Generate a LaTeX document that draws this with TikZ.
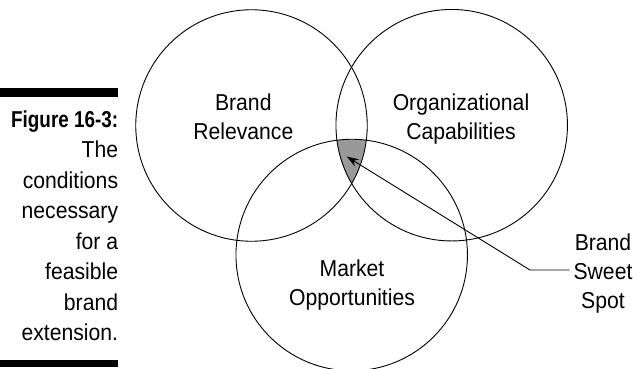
\documentclass[tikz,border=0pt]{standalone}
\usepackage{fontspec}
\setmainfont{Liberation Sans}[FakeStretch=0.92,BoldFeatures={FakeStretch=0.82}]
\usetikzlibrary{arrows.meta}
\begin{document}
\begin{tikzpicture}[x=1pt,y=-1pt,
  ring/.style={draw,circle,line width=0.9pt,minimum size=231.5pt,inner sep=0pt},
  lbl/.style={align=center,inner sep=0pt,anchor=north,font=\fontsize{23}{29}\selectfont},
  bar/.style={fill=black}]
\useasboundingbox (0,0) rectangle (637,368);
% sweet spot fill
\begin{scope}
  \clip (251.5,125.5) circle (115.5pt);
  \clip (451.7,125.2) circle (116pt);
  \fill[black!40] (351.7,255) circle (115.7pt);
\end{scope}
\node[ring] (rel) at (251.5,125.5) {};
\node[ring] (org) at (451.7,125.2) {};
\node[ring] (mkt) at (351.7,255) {};
% labels
\node[lbl] (relT) at (243.3,93.5) {Brand\\Relevance};
\node[lbl] (orgT) at (461,94) {Organizational\\Capabilities};
\node[lbl] (mktT) at (352,260) {Market\\Opportunities};
\node[lbl] (ss) at (603,234) {Brand\\Sweet\\Spot};
% leader
\coordinate (lend) at (569.5,270);
\coordinate (elbow) at (530,270);
\coordinate (tip) at (346.7,156.5);
\draw[line width=0.9pt,-{Stealth[length=12pt,width=8pt]}] (lend) -- (elbow) -- (tip);
% caption
\fill[bar] (0,88.3) rectangle (118.3,97.3);
\fill[bar] (0,359.5) rectangle (118.3,366.5);
\node[anchor=north east,align=right,inner sep=0pt,font=\fontsize{23}{30.5}\selectfont] (cap) at (118.3,110.5)
  {{\bfseries Figure 16-3:}\\The\\conditions\\necessary\\for a\\feasible\\brand\\extension.};
\end{tikzpicture}
\end{document}
